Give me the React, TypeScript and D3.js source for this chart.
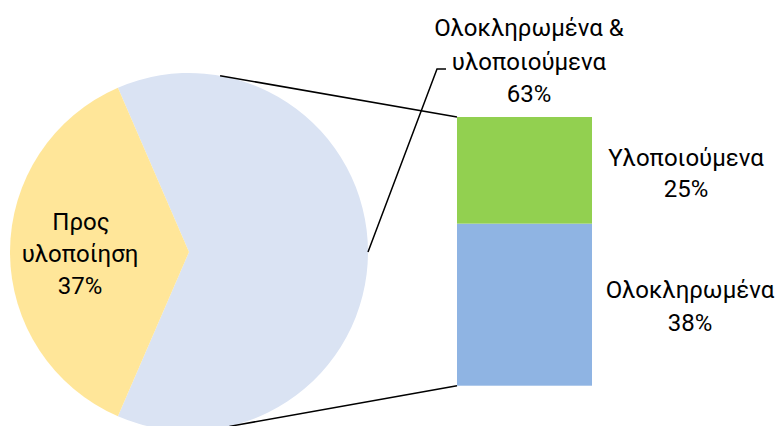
import React from "react";
import * as d3 from "d3";

const pieLabels = ["Ολοκληρωμένα & υλοποιούμενα", "Προς υλοποίηση"];
const pieValues = [63, 37];
const pieColors = ["#DAE3F3", "#FFE699"];

const barLabels = ["Ολοκληρωμένα", "Υλοποιούμενα"];
const barValues = [38, 25];
const barColors = ["#8FB4E3", "#92D050"];

const W = 779;
const H = 426;
const FONT = "Roboto, 'Noto Sans', sans-serif";
const FS = 24;

export default function App() {
  const cx = 189, cy = 252, r = 179;
  const total = d3.sum(pieValues);
  const mainSpan = (pieValues[0] / total) * 2 * Math.PI;
  const start = Math.PI / 2 - mainSpan / 2;
  const pie = d3
    .pie<number>()
    .sort(null)
    .startAngle(start)
    .endAngle(start + 2 * Math.PI)
    .value((d) => d);
  const arcs = pie(pieValues);
  const arc = d3.arc<d3.PieArcDatum<number>>().innerRadius(0).outerRadius(r);

  const barX0 = 457, barX1 = 592;
  const y = d3.scaleLinear().domain([0, d3.sum(barValues)]).range([385.7, 117]);
  const stack: { v0: number; v1: number; i: number }[] = [];
  let acc = 0;
  barValues.forEach((v, i) => {
    stack.push({ v0: acc, v1: acc + v, i });
    acc += v;
  });

  const pt = (a: number) => [cx + r * Math.sin(a), cy - r * Math.cos(a)];
  const topPt = pt((10 * Math.PI) / 180);
  const botPt = pt((167 * Math.PI) / 180);
  const leadPt = pt(Math.PI / 2);

  const pct = (v: number) => `${Math.round(v)}%`;

  // yellow label lines
  const yl = arcs[1];

  return (
    <svg
      width={W}
      height={H}
      style={{ position: "absolute", left: 0, top: 0, background: "#fff" }}
      fontFamily={FONT}
      fontSize={FS}
    >
      {arcs.map((a, i) => (
        <path key={i} d={arc(a) || ""} transform={`translate(${cx},${cy})`} fill={pieColors[i]} />
      ))}
      {stack.map((s) => (
        <rect
          key={s.i}
          x={barX0}
          width={barX1 - barX0}
          y={y(s.v1)}
          height={y(s.v0) - y(s.v1)}
          fill={barColors[s.i]}
        />
      ))}
      <line x1={topPt[0]} y1={topPt[1]} x2={barX0} y2={y(acc)} stroke="#000" strokeWidth={1.5} />
      <line x1={botPt[0]} y1={botPt[1]} x2={barX0} y2={y(0)} stroke="#000" strokeWidth={1.5} />
      <polyline
        points={`${leadPt[0]},${leadPt[1]} 437,69 446,69`}
        fill="none"
        stroke="#000"
        strokeWidth={1.5}
      />
      <g textAnchor="middle" fill="#000" dominantBaseline="central">
        <text x={529} y={28}>Ολοκληρωμένα &amp;</text>
        <text x={529} y={62}>υλοποιούμενα</text>
        <text x={529} y={94}>{pct(pieValues[0])}</text>

        <text x={81} y={222}>Προς</text>
        <text x={80} y={254}>υλοποίηση</text>
        <text x={80} y={286}>{pct(yl.data)}</text>

        <text x={686} y={158}>{barLabels[1]}</text>
        <text x={686} y={189}>{pct(barValues[1])}</text>
        <text x={690} y={290}>{barLabels[0]}</text>
        <text x={690} y={323}>{pct(barValues[0])}</text>
      </g>
    </svg>
  );
}
